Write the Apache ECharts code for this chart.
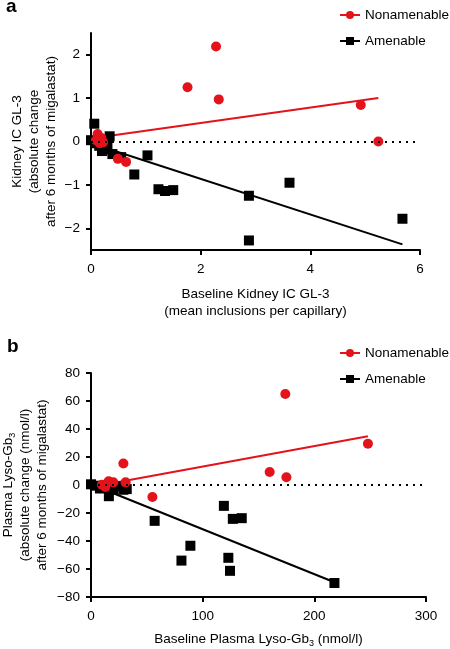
<!DOCTYPE html>
<html>
<head>
<meta charset="utf-8">
<script src="https://cdn.jsdelivr.net/npm/echarts@6/dist/echarts.min.js"></script>
<style>
html,body{margin:0;padding:0;background:#fff;}
#c{width:450px;height:649px;}
</style>
</head>
<body>
<div id="c"></div>
<script>
// ---- Panel a: Kidney IC GL-3 ----
var aNonX = [2.28, 1.76, 2.33, 4.92, 5.24, 0.49, 0.64, 0.12, 0.19, 0.16, 0.22, 0.09];
var aNonY = [2.19, 1.25, 0.97, 0.84, 0.00, -0.40, -0.47, 0.17, 0.08, -0.04, -0.02, 0.03];
var aAmX = [0.06, 0.00, 0.34, 0.08, 0.15, 0.25, 0.30, 0.20, 0.39, 0.55, 1.03, 0.79, 1.23, 1.35, 1.50, 2.88, 2.88, 3.62, 5.68];
var aAmY = [0.41, 0.03, 0.12, -0.04, -0.10, -0.18, -0.08, -0.22, -0.29, -0.36, -0.32, -0.76, -1.10, -1.14, -1.12, -1.25, -2.28, -0.95, -1.78];
var aNonFitX = [0.12, 5.24];
var aNonFitY = [0.09, 1.00];
var aAmFitX = [0.00, 5.68];
var aAmFitY = [-0.04, -2.37];
var aXTicks = [0, 2, 4, 6];
var aYTicks = [-2, -1, 0, 1, 2];

// ---- Panel b: Plasma Lyso-Gb3 ----
var bNonX = [174, 248, 160, 175, 29, 55, 31, 15.8, 20, 9.8, 12.8];
var bNonY = [65, 29.5, 9.3, 5.5, 15.3, -8.6, 1.9, 2.6, 1.9, 0.2, -1.4];
var bAmX = [119, 127, 135, 57, 89, 81, 123, 124.5, 218, 16, 0, 4, 8, 20, 23, 29, 32];
var bAmY = [-14.9, -24.2, -23.7, -25.6, -43.4, -54, -52, -61.3, -70, -8, 0.5, -0.5, -2.5, -3.4, -1, -3.4, -2.9];
var bNonFitX = [10, 248];
var bNonFitY = [0.0, 34.8];
var bAmFitX = [0, 218];
var bAmFitY = [0.5, -69.5];

var RED = '#e3121b';
var BLK = '#000000';
var FONT = 'Liberation Sans, Arial, sans-serif';

function pairs(xs, ys) { return xs.map(function (x, i) { return [x, ys[i]]; }); }

var axisLine = { show: true, onZero: false, lineStyle: { color: '#000', width: 2 } };
var axisTick = { show: true, length: 5, lineStyle: { color: '#000', width: 2 } };
var lbl = { color: '#000', fontSize: 13.5, fontFamily: FONT };
var nameStyle = { color: '#000', fontSize: 13.5, fontFamily: FONT, lineHeight: 17 };

var chart = echarts.init(document.getElementById('c'), null, { renderer: 'canvas' });

function fitSeries(name, xi, yi, xs, ys, color, symbol) {
  return {
    name: name, type: 'line', xAxisIndex: xi, yAxisIndex: yi,
    data: pairs(xs, ys), symbol: symbol, symbolSize: 7, showSymbol: false,
    lineStyle: { color: color, width: 2 }, itemStyle: { color: color },
    z: 2, silent: true, animation: false
  };
}
function ptSeries(name, xi, yi, xs, ys, color, symbol, z, withZero) {
  var s = {
    name: name, type: 'scatter', xAxisIndex: xi, yAxisIndex: yi,
    data: pairs(xs, ys), symbol: symbol, symbolSize: 10,
    itemStyle: { color: color, opacity: 1 }, z: z, animation: false
  };
  if (withZero) {
    s.markLine = {
      symbol: 'none', silent: true, animation: false,
      label: { show: false },
      lineStyle: { color: '#000', type: [2, 5], width: 2 },
      data: [{ yAxis: 0 }]
    };
  }
  return s;
}

var legTxt = { fontSize: 13.5, color: '#000', fontFamily: FONT };
var richSub = {
  n: { fontSize: 13.5, color: '#000', fontFamily: FONT, lineHeight: 17 },
  s: { fontSize: 9, color: '#000', fontFamily: FONT, verticalAlign: 'bottom', lineHeight: 17, padding: [8, 0, 0, 0] }
};
function minusFmt(v) { return v < 0 ? '\u2212' + Math.abs(v) : String(v); }

var option = {
  backgroundColor: '#fff',
  animation: false,
  textStyle: { fontFamily: FONT },
  title: [
    { text: 'a', left: 6, top: -3, padding: 0, textStyle: { fontSize: 19, fontWeight: 'bold', color: '#000', fontFamily: FONT } },
    { text: 'b', left: 7, top: 337, padding: 0, textStyle: { fontSize: 19, fontWeight: 'bold', color: '#000', fontFamily: FONT } }
  ],
  legend: [
    { data: ['Nonamenable', 'Amenable'], orient: 'vertical', left: 339, top: 8, padding: 0,
      itemWidth: 20, itemHeight: 10, itemGap: 12, textStyle: legTxt },
    { data: ['Nonamenable ', 'Amenable '], orient: 'vertical', left: 339, top: 346, padding: 0,
      itemWidth: 20, itemHeight: 10, itemGap: 12, textStyle: legTxt }
  ],
  grid: [
    { left: 91, top: 33, width: 329, height: 217, outerBoundsMode: 'none', containLabel: false },
    { left: 91, top: 373, width: 335, height: 224, outerBoundsMode: 'none', containLabel: false }
  ],
  xAxis: [
    { type: 'value', gridIndex: 0, min: 0, max: 6, interval: 2,
      axisLine: axisLine, axisTick: axisTick, splitLine: { show: false },
      axisLabel: Object.assign({ margin: 12 }, lbl),
      name: 'Baseline Kidney IC GL-3\n(mean inclusions per capillary)', nameLocation: 'middle', nameGap: 36,
      nameMoveOverlap: false,
      nameTextStyle: nameStyle },
    { type: 'value', gridIndex: 1, min: 0, max: 300, interval: 100,
      axisLine: axisLine, axisTick: axisTick, splitLine: { show: false },
      axisLabel: Object.assign({ margin: 12 }, lbl),
      name: '{n|Baseline Plasma Lyso-Gb}{s|3}{n| (nmol/l)}', nameLocation: 'middle', nameGap: 34,
      nameMoveOverlap: false,
      nameTextStyle: { color: '#000', fontFamily: FONT, rich: richSub } }
  ],
  yAxis: [
    { type: 'value', gridIndex: 0, min: -2.5, max: 2.5,
      axisLine: axisLine,
      axisTick: Object.assign({ customValues: aYTicks }, axisTick),
      splitLine: { show: false },
      axisLabel: Object.assign({ margin: 11, customValues: aYTicks, formatter: minusFmt }, lbl),
      name: 'Kidney IC GL-3\n(absolute change\nafter 6 months of migalastat)', nameLocation: 'middle', nameGap: 31,
      nameMoveOverlap: false,
      nameTextStyle: nameStyle },
    { type: 'value', gridIndex: 1, min: -80, max: 80, interval: 20,
      axisLine: axisLine, axisTick: axisTick, splitLine: { show: false },
      axisLabel: Object.assign({ margin: 11, formatter: minusFmt }, lbl),
      name: '{n|Plasma Lyso-Gb}{s|3}\n{n|(absolute change (nmol/l)}\n{n|after 6 months of migalastat)}',
      nameLocation: 'middle', nameGap: 40,
      nameMoveOverlap: false,
      nameTextStyle: { color: '#000', fontFamily: FONT, rich: richSub } }
  ],
  series: [
    fitSeries('Nonamenable', 0, 0, aNonFitX, aNonFitY, RED, 'circle'),
    fitSeries('Amenable', 0, 0, aAmFitX, aAmFitY, BLK, 'rect'),
    ptSeries('a-amenable-pts', 0, 0, aAmX, aAmY, BLK, 'rect', 3, true),
    ptSeries('a-nonamenable-pts', 0, 0, aNonX, aNonY, RED, 'circle', 4, false),
    fitSeries('Nonamenable ', 1, 1, bNonFitX, bNonFitY, RED, 'circle'),
    fitSeries('Amenable ', 1, 1, bAmFitX, bAmFitY, BLK, 'rect'),
    ptSeries('b-amenable-pts', 1, 1, bAmX, bAmY, BLK, 'rect', 3, true),
    ptSeries('b-nonamenable-pts', 1, 1, bNonX, bNonY, RED, 'circle', 4, false)
  ]
};
chart.setOption(option);
</script>
</body>
</html>
